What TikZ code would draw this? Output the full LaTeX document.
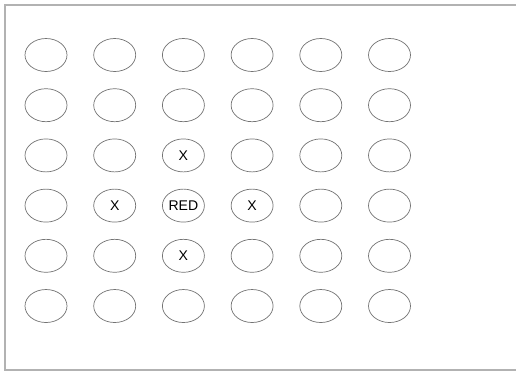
\documentclass[tikz,border=0pt]{standalone}
\usepackage{fontspec}
\setmainfont{Liberation Sans}
\usetikzlibrary{shapes.geometric, positioning}

\begin{document}
\begin{tikzpicture}[
    node distance=0.33cm and 0.52cm,
    cell/.style={ellipse, minimum width=0.84cm, minimum height=0.66cm, inner sep=0pt, draw=black!55, font=\fontsize{8}{9}\selectfont},
    frame/.style={draw=black!30, line width=1pt}
]
    \useasboundingbox (0,0) rectangle (10.32,-7.44);
    \draw [frame] (10.6,-0.1) -- (0.1,-0.1) -- (0.1,-7.40) -- (10.6,-7.40);

    % first row
    \node (a1) [cell] at (0.92,-1.10) {};
    \node (a2) [cell, right=of a1] {};
    \node (a3) [cell, right=of a2] {};
    \node (a4) [cell, right=of a3] {};
    \node (a5) [cell, right=of a4] {};
    \node (a6) [cell, right=of a5] {};

    \node (b1) [cell, below=of a1] {};
    \node (b2) [cell, below=of a2] {};
    \node (b3) [cell, below=of a3] {};
    \node (b4) [cell, below=of a4] {};
    \node (b5) [cell, below=of a5] {};
    \node (b6) [cell, below=of a6] {};

    \node (c1) [cell, below=of b1] {};
    \node (c2) [cell, below=of b2] {};
    \node (c3) [cell, below=of b3] {X};
    \node (c4) [cell, below=of b4] {};
    \node (c5) [cell, below=of b5] {};
    \node (c6) [cell, below=of b6] {};

    \node (d1) [cell, below=of c1] {};
    \node (d2) [cell, below=of c2] {X};
    \node (d3) [cell, below=of c3] {RED};
    \node (d4) [cell, below=of c4] {X};
    \node (d5) [cell, below=of c5] {};
    \node (d6) [cell, below=of c6] {};

    \node (e1) [cell, below=of d1] {};
    \node (e2) [cell, below=of d2] {};
    \node (e3) [cell, below=of d3] {X};
    \node (e4) [cell, below=of d4] {};
    \node (e5) [cell, below=of d5] {};
    \node (e6) [cell, below=of d6] {};

    \node (f1) [cell, below=of e1] {};
    \node (f2) [cell, below=of e2] {};
    \node (f3) [cell, below=of e3] {};
    \node (f4) [cell, below=of e4] {};
    \node (f5) [cell, below=of e5] {};
    \node (f6) [cell, below=of e6] {};
\end{tikzpicture}
\end{document}
